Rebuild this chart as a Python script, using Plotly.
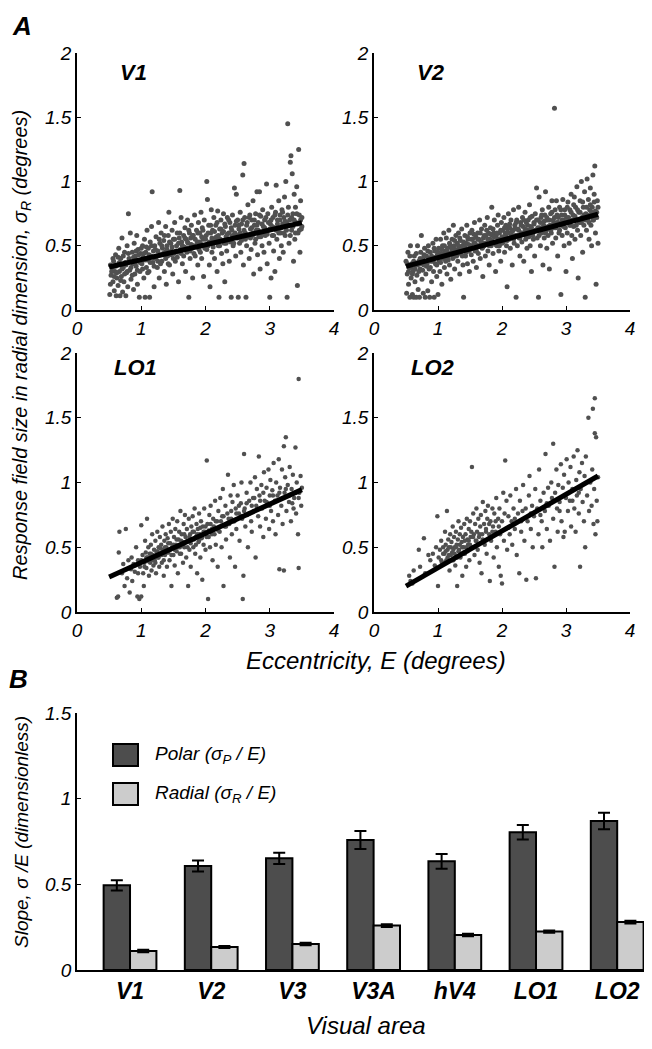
import plotly.graph_objects as go

# ---------------- data ----------------
# Panel A: (eccentricity E, radial size sigma_R)
v1_pts = [
(0.51,0.12),(0.52,0.2),(0.53,0.27),(0.55,0.33),(0.56,0.22),(0.57,0.38),(0.58,0.15),(0.59,0.3),(0.6,0.43),
(0.61,0.11),(0.62,0.25),(0.63,0.35),(0.64,0.19),(0.65,0.48),(0.66,0.3),(0.67,0.11),(0.68,0.4),(0.69,0.26),(0.7,0.56),
(0.71,0.14),(0.72,0.33),(0.73,0.22),(0.74,0.45),(0.75,0.37),(0.76,0.11),(0.77,0.29),(0.78,0.5),(0.79,0.18),(0.8,0.75),
(0.81,0.4),(0.82,0.31),(0.83,0.6),(0.84,0.24),(0.86,0.45),(0.87,0.36),(0.88,0.16),(0.89,0.52),(0.9,0.28),
(0.91,0.42),(0.92,0.34),(0.93,0.58),(0.94,0.2),(0.95,0.47),(0.96,0.38),(0.97,0.1),(0.98,0.3),(0.99,0.44),
(1.01,0.36),(1.02,0.5),(1.03,0.41),(1.04,0.25),(1.05,0.55),(1.06,0.1),(1.07,0.45),(1.08,0.33),(1.09,0.62),(1.1,0.39),
(1.11,0.48),(1.12,0.3),(1.13,0.1),(1.14,0.53),(1.15,0.42),(1.16,0.65),(1.17,0.92),(1.18,0.37),(1.19,0.46),(1.2,0.18),
(1.21,0.5),(1.22,0.4),(1.23,0.57),(1.25,0.33),(1.26,0.46),(1.27,0.68),(1.28,0.25),(1.29,0.52),(1.3,0.43),
(1.31,0.6),(1.32,0.38),(1.33,0.48),(1.35,0.54),(1.36,0.3),(1.37,0.45),(1.38,0.65),(1.39,0.2),(1.4,0.5),
(1.41,0.42),(1.42,0.58),(1.43,0.76),(1.44,0.35),(1.46,0.52),(1.47,0.46),(1.48,0.62),(1.49,0.28),(1.5,0.55),
(1.51,0.44),(1.52,0.68),(1.53,0.38),(1.55,0.5),(1.56,0.6),(1.57,0.45),(1.58,0.22),(1.59,0.56),(1.6,0.93),
(1.61,0.47),(1.62,0.72),(1.63,0.53),(1.64,0.36),(1.66,0.58),(1.67,0.49),(1.68,0.64),(1.69,0.3),(1.7,0.55),
(1.71,0.45),(1.72,0.7),(1.73,0.52),(1.74,0.1),(1.75,0.6),(1.76,0.4),(1.77,0.56),(1.78,0.66),(1.79,0.48),(1.8,0.25),
(1.81,0.58),(1.82,0.5),(1.83,0.74),(1.84,0.42),(1.86,0.62),(1.87,0.53),(1.88,0.35),(1.89,0.68),(1.9,0.47),
(1.91,0.6),(1.92,0.52),(1.93,0.76),(1.94,0.4),(1.95,0.64),(1.96,0.55),(1.97,0.26),(1.98,0.7),(1.99,0.48),
(2.01,0.58),(2.02,1.0),(2.03,0.86),(2.04,0.5),(2.05,0.66),(2.06,0.35),(2.07,0.18),(2.08,0.6),(2.09,0.78),(2.1,0.45),
(2.11,0.62),(2.12,0.54),(2.13,0.72),(2.14,0.4),(2.16,0.66),(2.17,0.57),(2.18,0.3),(2.19,0.77),(2.2,0.5),
(2.21,0.1),(2.22,0.63),(2.23,0.55),(2.24,0.7),(2.25,0.44),(2.26,0.6),(2.27,0.36),(2.28,0.75),(2.29,0.52),(2.3,0.22),
(2.31,0.65),(2.32,0.57),(2.33,0.46),(2.34,0.72),(2.36,0.6),(2.37,0.38),(2.38,0.68),(2.39,0.53),(2.4,0.1),
(2.41,0.62),(2.42,0.74),(2.43,0.5),(2.45,0.95),(2.46,0.66),(2.47,0.42),(2.48,0.9),(2.49,0.58),(2.5,0.7),
(2.51,0.1),(2.52,0.63),(2.53,0.52),(2.54,0.76),(2.55,0.45),(2.56,0.67),(2.57,0.58),(2.58,1.05),(2.59,0.35),(2.6,1.14),
(2.61,0.72),(2.62,0.6),(2.63,0.1),(2.64,0.5),(2.65,0.68),(2.66,0.82),(2.67,0.57),(2.68,0.4),(2.69,0.74),(2.7,0.63),
(2.71,0.47),(2.72,0.7),(2.73,0.58),(2.74,0.85),(2.75,0.28),(2.76,0.66),(2.77,0.52),(2.78,0.75),(2.79,0.62),(2.8,0.92),
(2.81,0.43),(2.82,0.68),(2.83,0.57),(2.84,0.92),(2.85,0.32),(2.86,0.73),(2.87,0.6),(2.88,0.5),(2.89,0.78),(2.9,0.65),
(2.91,0.45),(2.92,0.7),(2.93,0.58),(2.95,0.98),(2.96,0.36),(2.97,0.75),(2.98,0.62),(2.99,0.52),(3.0,0.1),
(3.01,0.67),(3.02,0.25),(3.03,0.8),(3.04,0.58),(3.05,0.72),(3.06,0.46),(3.07,0.64),(3.08,0.3),(3.09,0.76),(3.1,0.97),
(3.11,0.55),(3.12,0.7),(3.13,0.62),(3.14,0.85),(3.15,0.4),(3.16,0.74),(3.17,0.6),(3.18,0.5),(3.19,0.78),(3.2,0.67),
(3.21,0.45),(3.22,0.72),(3.23,0.88),(3.24,0.58),(3.25,1.0),(3.26,0.68),(3.27,0.1),(3.28,1.45),(3.29,0.8),(3.3,0.52),
(3.31,0.7),(3.32,1.15),(3.33,1.2),(3.34,0.62),(3.35,1.06),(3.36,0.75),(3.37,0.38),(3.38,0.9),(3.39,0.55),(3.4,0.8),
(3.41,0.68),(3.42,0.96),(3.43,0.19),(3.44,0.6),(3.45,1.25),(3.46,0.74),(3.47,0.45),(3.48,0.85),(3.49,0.63),(3.5,0.72),
(0.52,0.35),(0.54,0.3),(0.56,0.4),(0.58,0.26),(0.6,0.34),(0.62,0.29),(0.64,0.41),(0.66,0.37),(0.68,0.23),(0.7,0.32),
(0.72,0.42),(0.74,0.28),(0.76,0.35),(0.78,0.3),(0.8,0.44),(0.82,0.38),(0.84,0.33),(0.86,0.27),(0.88,0.41),(0.9,0.36),
(0.92,0.46),(0.94,0.31),(0.96,0.43),(0.98,0.37),(1.0,0.48),(1.02,0.32),(1.04,0.44),(1.06,0.39),(1.08,0.49),(1.1,0.29),
(1.12,0.43),(1.14,0.37),(1.16,0.5),(1.18,0.41),(1.2,0.34),(1.22,0.47),(1.24,0.42),(1.26,0.38),(1.28,0.55),(1.3,0.36),
(1.32,0.5),(1.34,0.44),(1.36,0.58),(1.38,0.4),(1.4,0.47),(1.42,0.36),(1.44,0.53),(1.46,0.43),(1.48,0.49),(1.5,0.4),
(1.52,0.55),(1.54,0.46),(1.56,0.41),(1.58,0.52),(1.6,0.6),(1.62,0.44),(1.64,0.5),(1.66,0.42),(1.68,0.56),(1.7,0.48),
(1.72,0.53),(1.74,0.62),(1.76,0.46),(1.78,0.51),(1.8,0.58),(1.82,0.44),(1.84,0.55),(1.86,0.49),(1.88,0.6),(1.9,0.53),
(1.92,0.45),(1.94,0.57),(1.96,0.62),(1.98,0.5),(2.0,0.55),(2.02,0.47),(2.04,0.6),(2.06,0.53),(2.08,0.66),(2.1,0.56),
(2.12,0.49),(2.14,0.61),(2.16,0.55),(2.18,0.68),(2.2,0.58),(2.22,0.5),(2.24,0.63),(2.26,0.54),(2.28,0.61),(2.3,0.67),
(2.32,0.52),(2.34,0.59),(2.36,0.7),(2.38,0.55),(2.4,0.64),(2.42,0.58),(2.44,0.52),(2.46,0.6),(2.48,0.69),(2.5,0.56),
(2.52,0.66),(2.54,0.6),(2.56,0.54),(2.58,0.7),(2.6,0.62),(2.62,0.55),(2.64,0.66),(2.66,0.58),(2.68,0.72),(2.7,0.56),
(2.72,0.64),(2.74,0.6),(2.76,0.7),(2.78,0.55),(2.8,0.66),(2.82,0.62),(2.84,0.74),(2.86,0.57),(2.88,0.67),(2.9,0.6),
(2.92,0.64),(2.94,0.72),(2.96,0.59),(2.98,0.68),(3.0,0.63),(3.02,0.7),(3.04,0.65),(3.06,0.58),(3.08,0.74),(3.1,0.62),
(3.12,0.67),(3.14,0.6),(3.16,0.7),(3.18,0.64),(3.2,0.76),(3.22,0.6),(3.24,0.69),(3.26,0.62),(3.28,0.74),(3.3,0.66),
(3.32,0.58),(3.34,0.72),(3.36,0.65),(3.38,0.7),(3.4,0.6),(3.42,0.75),(3.44,0.67),(3.46,0.62),(3.48,0.7),(3.5,0.65),
]
v2_pts = [
(0.5,0.38),(0.51,0.13),(0.52,0.28),(0.53,0.45),(0.54,0.2),(0.55,0.33),(0.56,0.1),(0.57,0.5),(0.58,0.25),(0.59,0.36),(0.6,0.12),
(0.61,0.3),(0.62,0.1),(0.63,0.42),(0.64,0.22),(0.65,0.35),(0.66,0.1),(0.67,0.27),(0.68,0.5),(0.69,0.16),(0.7,0.38),
(0.71,0.1),(0.72,0.32),(0.73,0.45),(0.74,0.58),(0.75,0.24),(0.76,0.4),(0.77,0.13),(0.78,0.35),(0.79,0.48),(0.8,0.1),
(0.81,0.28),(0.82,0.42),(0.83,0.36),(0.84,0.15),(0.85,0.5),(0.86,0.32),(0.87,0.1),(0.88,0.45),(0.89,0.38),(0.9,0.22),
(0.91,0.4),(0.92,0.52),(0.93,0.3),(0.94,0.1),(0.95,0.46),(0.96,0.36),(0.97,0.55),(0.98,0.26),(0.99,0.43),(1.0,0.12),
(1.01,0.48),(1.02,0.38),(1.03,0.3),(1.04,0.55),(1.05,0.44),(1.06,0.2),(1.07,0.5),(1.08,0.4),(1.09,0.6),(1.1,0.33),
(1.11,0.46),(1.12,0.38),(1.13,0.56),(1.14,0.28),(1.15,0.48),(1.16,0.42),(1.17,0.62),(1.18,0.35),(1.19,0.5),(1.2,0.24),
(1.21,0.45),(1.22,0.55),(1.23,0.4),(1.24,0.66),(1.25,0.5),(1.26,0.32),(1.27,0.47),(1.28,0.58),(1.29,0.42),(1.3,0.52),
(1.31,0.38),(1.32,0.6),(1.33,0.48),(1.34,0.28),(1.35,0.54),(1.36,0.44),(1.37,0.63),(1.38,0.5),(1.39,0.35),(1.4,0.1),
(1.41,0.47),(1.42,0.58),(1.43,0.42),(1.44,0.52),(1.45,0.66),(1.46,0.36),(1.47,0.55),(1.48,0.46),(1.49,0.3),(1.5,0.6),
(1.51,0.5),(1.52,0.43),(1.53,0.62),(1.54,0.55),(1.55,0.38),(1.56,0.52),(1.57,0.68),(1.58,0.46),(1.59,0.57),(1.6,0.33),
(1.61,0.5),(1.62,0.6),(1.63,0.44),(1.64,0.55),(1.65,0.7),(1.66,0.4),(1.67,0.53),(1.68,0.63),(1.69,0.48),(1.7,0.26),
(1.71,0.56),(1.72,0.5),(1.73,0.66),(1.74,0.42),(1.75,0.58),(1.76,0.52),(1.77,0.72),(1.78,0.46),(1.79,0.6),(1.8,0.35),
(1.81,0.55),(1.82,0.64),(1.83,0.5),(1.84,0.8),(1.85,0.58),(1.86,0.44),(1.87,0.6),(1.88,0.7),(1.89,0.53),(1.9,0.3),
(1.91,0.58),(1.92,0.5),(1.93,0.66),(1.94,0.74),(1.95,0.46),(1.96,0.6),(1.97,0.55),(1.98,0.38),(1.99,0.68),(2.0,0.52),
(2.01,0.62),(2.02,0.56),(2.03,0.72),(2.04,0.45),(2.05,0.6),(2.06,0.66),(2.07,0.5),(2.08,0.18),(2.09,0.63),(2.1,0.75),
(2.11,0.55),(2.12,0.64),(2.13,0.48),(2.14,0.7),(2.15,0.58),(2.16,0.35),(2.17,0.62),(2.18,0.78),(2.19,0.52),(2.2,0.66),
(2.21,0.58),(2.22,0.1),(2.23,0.7),(2.24,0.5),(2.25,0.63),(2.26,0.8),(2.27,0.56),(2.28,0.42),(2.29,0.68),(2.3,0.6),
(2.31,0.53),(2.32,0.72),(2.33,0.65),(2.34,0.38),(2.35,0.6),(2.36,0.76),(2.37,0.55),(2.38,0.68),(2.39,0.48),(2.4,0.62),
(2.41,0.7),(2.42,0.57),(2.43,0.82),(2.44,0.5),(2.45,0.65),(2.46,0.3),(2.47,0.73),(2.48,0.6),(2.49,0.55),(2.5,0.68),
(2.51,0.42),(2.52,0.75),(2.53,0.62),(2.54,0.95),(2.55,0.56),(2.56,0.7),(2.57,0.1),(2.58,0.88),(2.59,0.64),(2.6,0.5),
(2.61,0.72),(2.62,0.6),(2.63,0.78),(2.64,0.35),(2.65,0.66),(2.66,0.56),(2.67,0.74),(2.68,0.92),(2.69,0.62),(2.7,0.48),
(2.71,0.7),(2.72,0.58),(2.73,0.8),(2.74,0.32),(2.75,0.66),(2.76,0.75),(2.77,0.6),(2.78,0.85),(2.79,0.52),(2.8,0.7),
(2.81,0.64),(2.82,1.57),(2.83,0.78),(2.84,0.56),(2.85,0.85),(2.86,0.68),(2.87,0.42),(2.88,0.72),(2.89,0.6),(2.9,0.8),
(2.91,0.66),(2.92,0.12),(2.93,0.74),(2.94,0.58),(2.95,0.86),(2.96,0.7),(2.97,0.5),(2.98,0.78),(2.99,0.64),(3.0,0.3),
(3.01,0.72),(3.02,0.6),(3.03,0.84),(3.04,0.68),(3.05,0.52),(3.06,0.78),(3.07,0.66),(3.08,0.9),(3.09,0.58),(3.1,0.4),
(3.11,0.74),(3.12,0.65),(3.13,0.88),(3.14,0.55),(3.15,0.8),(3.16,0.7),(3.17,0.96),(3.18,0.62),(3.19,0.25),(3.2,0.76),
(3.21,0.68),(3.22,0.85),(3.23,0.58),(3.24,1.0),(3.25,0.72),(3.26,0.45),(3.27,0.8),(3.28,0.66),(3.29,0.92),(3.3,0.1),
(3.31,0.75),(3.32,0.62),(3.33,1.02),(3.34,0.7),(3.35,0.86),(3.36,0.55),(3.37,0.78),(3.38,0.95),(3.39,0.66),(3.4,0.5),
(3.41,0.8),(3.42,1.05),(3.43,0.7),(3.44,0.9),(3.45,1.12),(3.46,0.6),(3.47,0.2),(3.48,0.76),(3.49,0.85),(3.5,0.52),
(0.52,0.36),(0.54,0.3),(0.56,0.42),(0.58,0.33),(0.6,0.28),(0.62,0.38),(0.64,0.32),(0.66,0.44),(0.68,0.35),(0.7,0.3),
(0.72,0.4),(0.74,0.36),(0.76,0.31),(0.78,0.43),(0.8,0.37),(0.82,0.34),(0.84,0.46),(0.86,0.4),(0.88,0.33),(0.9,0.42),
(0.92,0.38),(0.94,0.48),(0.96,0.41),(0.98,0.35),(1.0,0.45),(1.02,0.42),(1.04,0.37),(1.06,0.47),(1.08,0.43),(1.1,0.5),
(1.12,0.41),(1.14,0.46),(1.16,0.39),(1.18,0.52),(1.2,0.44),(1.22,0.48),(1.24,0.41),(1.26,0.54),(1.28,0.46),(1.3,0.43),
(1.32,0.5),(1.34,0.56),(1.36,0.47),(1.38,0.42),(1.4,0.53),(1.42,0.49),(1.44,0.45),(1.46,0.57),(1.48,0.51),(1.5,0.47),
(1.52,0.55),(1.54,0.48),(1.56,0.59),(1.58,0.52),(1.6,0.46),(1.62,0.55),(1.64,0.5),(1.66,0.6),(1.68,0.53),(1.7,0.49),
(1.72,0.58),(1.74,0.52),(1.76,0.62),(1.78,0.55),(1.8,0.5),(1.82,0.59),(1.84,0.54),(1.86,0.63),(1.88,0.57),(1.9,0.51),
(1.92,0.6),(1.94,0.55),(1.96,0.5),(1.98,0.62),(2.0,0.57),(2.02,0.53),(2.04,0.64),(2.06,0.58),(2.08,0.54),(2.1,0.6),
(2.12,0.67),(2.14,0.56),(2.16,0.61),(2.18,0.55),(2.2,0.63),(2.22,0.68),(2.24,0.58),(2.26,0.62),(2.28,0.56),(2.3,0.66),
(2.32,0.6),(2.34,0.7),(2.36,0.63),(2.38,0.57),(2.4,0.66),(2.42,0.61),(2.44,0.72),(2.46,0.64),(2.48,0.58),(2.5,0.67),
(2.52,0.62),(2.54,0.7),(2.56,0.64),(2.58,0.58),(2.6,0.68),(2.62,0.74),(2.64,0.63),(2.66,0.69),(2.68,0.6),(2.7,0.72),
(2.72,0.65),(2.74,0.7),(2.76,0.62),(2.78,0.76),(2.8,0.67),(2.82,0.72),(2.84,0.64),(2.86,0.74),(2.88,0.68),(2.9,0.62),
(2.92,0.78),(2.94,0.7),(2.96,0.65),(2.98,0.74),(3.0,0.68),(3.02,0.8),(3.04,0.72),(3.06,0.66),(3.08,0.76),(3.1,0.7),
(3.12,0.82),(3.14,0.73),(3.16,0.66),(3.18,0.78),(3.2,0.7),(3.22,0.76),(3.24,0.68),(3.26,0.84),(3.28,0.74),(3.3,0.7),
(3.32,0.8),(3.34,0.74),(3.36,0.68),(3.38,0.82),(3.4,0.76),(3.42,0.7),(3.44,0.84),(3.46,0.77),(3.48,0.72),(3.5,0.8),
]
lo1_pts = [
(0.62,0.11),(0.64,0.12),(0.65,0.46),(0.66,0.62),(0.7,0.3),(0.72,0.37),(0.74,0.2),(0.76,0.64),(0.78,0.26),(0.8,0.4),
(0.82,0.15),(0.84,0.33),(0.85,0.42),(0.86,0.24),(0.88,0.37),(0.9,0.31),(0.92,0.5),(0.94,0.12),(0.95,0.4),(0.97,0.1),(0.98,0.35),(1.0,0.67),
(1.0,0.12),(1.02,0.44),(1.03,0.3),(1.04,0.2),(1.05,0.38),(1.06,0.55),(1.07,0.46),(1.08,0.34),(1.09,0.72),(1.1,0.42),
(1.11,0.5),(1.12,0.28),(1.13,0.45),(1.14,0.38),(1.15,0.52),(1.16,0.32),(1.17,0.6),(1.18,0.44),(1.19,0.36),(1.2,0.48),
(1.21,0.4),(1.22,0.55),(1.23,0.3),(1.24,0.46),(1.25,0.62),(1.26,0.42),(1.27,0.5),(1.28,0.35),(1.29,0.58),(1.3,0.45),
(1.31,0.52),(1.32,0.38),(1.33,0.66),(1.34,0.48),(1.35,0.28),(1.36,0.55),(1.37,0.44),(1.38,0.6),(1.39,0.5),(1.4,0.35),
(1.41,0.57),(1.42,0.46),(1.43,0.68),(1.44,0.4),(1.45,0.53),(1.46,0.62),(1.47,0.2),(1.48,0.5),(1.49,0.72),(1.5,0.44),
(1.51,0.58),(1.52,0.36),(1.53,0.64),(1.54,0.52),(1.55,0.47),(1.56,0.7),(1.57,0.3),(1.58,0.56),(1.59,0.62),(1.6,0.5),
(1.61,0.78),(1.62,0.45),(1.63,0.6),(1.64,0.54),(1.65,0.38),(1.66,0.68),(1.67,0.5),(1.68,0.75),(1.69,0.58),(1.7,0.42),
(1.71,0.64),(1.72,0.55),(1.73,0.2),(1.74,0.72),(1.75,0.48),(1.76,0.6),(1.77,0.35),(1.78,0.66),(1.79,0.56),(1.8,0.74),
(1.81,0.5),(1.82,0.62),(1.83,0.8),(1.84,0.45),(1.85,0.58),(1.86,0.68),(1.87,0.3),(1.88,0.64),(1.89,0.54),(1.9,0.76),
(1.91,0.6),(1.92,0.42),(1.93,0.7),(1.94,0.57),(1.95,0.25),(1.96,0.66),(1.97,0.52),(1.98,0.8),(1.99,0.62),(2.0,0.48),
(2.02,1.17),(2.03,0.68),(2.04,0.1),(2.05,0.58),(2.06,0.75),(2.07,0.5),(2.08,0.82),(2.1,0.64),(2.11,0.4),(2.12,0.72),
(2.14,0.6),(2.15,0.86),(2.16,0.52),(2.18,0.7),(2.19,0.35),(2.2,0.78),
(2.22,0.62),(2.23,0.88),(2.25,0.5),(2.26,0.74),(2.27,0.95),(2.28,0.2),(2.3,0.66),(2.31,0.82),(2.32,0.56),(2.34,0.76),
(2.35,1.06),(2.37,0.68),(2.38,0.42),(2.39,0.9),(2.4,0.72),
(2.41,0.6),(2.42,0.85),(2.44,0.98),(2.45,0.7),(2.46,0.35),(2.47,0.8),(2.48,0.64),(2.5,0.9),(2.52,0.76),(2.53,0.55),
(2.55,0.84),(2.56,1.0),(2.57,0.72),(2.58,0.1),(2.59,0.28),(2.6,1.22),
(2.61,0.8),(2.62,0.66),(2.64,0.92),(2.65,0.75),(2.66,0.5),(2.68,0.86),(2.7,1.0),(2.71,0.7),(2.72,0.62),(2.74,0.88),
(2.75,0.78),(2.77,1.04),(2.78,0.42),(2.79,0.82),(2.8,0.95),
(2.82,0.74),(2.83,1.2),(2.84,0.9),(2.85,0.66),(2.87,0.98),(2.88,0.8),(2.9,0.58),(2.91,1.08),(2.92,0.86),(2.94,0.72),
(2.95,0.96),(2.97,0.84),(2.98,1.1),(2.99,0.64),(3.0,0.9),
(3.01,1.02),(3.02,0.78),(3.04,0.94),(3.05,0.7),(3.06,1.15),(3.08,0.86),(3.09,0.6),(3.1,1.0),(3.12,0.9),(3.13,0.75),
(3.14,1.18),(3.15,0.33),(3.16,0.96),(3.18,0.82),(3.19,1.1),(3.2,0.68),
(3.22,1.28),(3.22,0.32),(3.23,0.92),(3.24,1.04),(3.25,1.35),(3.26,0.78),(3.28,0.98),(3.3,0.85),(3.31,1.12),(3.33,0.7),
(3.34,0.95),(3.36,1.06),(3.37,0.8),(3.38,0.88),(3.4,1.27),(3.41,0.76),(3.42,1.0),(3.44,0.6),(3.45,1.8),(3.45,0.34),
(3.46,0.92),(3.48,1.05),(3.49,0.82),(3.5,0.96),
(0.9,0.36),(0.95,0.3),(1.0,0.4),(1.05,0.35),(1.08,0.42),(1.12,0.39),(1.15,0.45),(1.18,0.4),(1.2,0.43),(1.22,0.38),
(1.25,0.47),(1.27,0.42),(1.3,0.49),(1.32,0.44),(1.35,0.4),(1.37,0.5),(1.4,0.46),(1.42,0.53),(1.45,0.48),(1.47,0.44),
(1.5,0.52),(1.52,0.48),(1.55,0.56),(1.57,0.5),(1.6,0.45),(1.62,0.55),(1.65,0.52),(1.67,0.6),(1.7,0.54),(1.72,0.5),
(1.75,0.58),(1.77,0.53),(1.8,0.62),(1.82,0.56),(1.85,0.52),(1.87,0.6),(1.9,0.55),(1.92,0.65),(1.95,0.58),(1.97,0.62),
(2.0,0.66),(2.02,0.58),(2.05,0.63),(2.08,0.68),(2.1,0.6),(2.13,0.66),(2.16,0.7),(2.2,0.63),(2.24,0.7),(2.28,0.74),
(2.32,0.66),(2.36,0.72),(2.4,0.78),(2.44,0.7),(2.48,0.76),(2.52,0.82),(2.56,0.74),(2.6,0.78),(2.64,0.84),(2.68,0.76),
(2.72,0.82),(2.76,0.88),(2.8,0.8),(2.85,0.86),(2.9,0.92),(2.95,0.85),(3.0,0.82),(3.05,0.9),(3.1,0.86),(3.15,0.92),
(3.2,0.88),(3.25,0.95),(3.3,0.9),(3.35,0.84),(3.4,0.92),(3.45,0.88),
]
lo2_pts = [
(0.55,0.28),(0.57,0.24),(0.6,0.22),(0.62,0.32),(0.7,0.48),(0.72,0.35),(0.78,0.57),(0.8,0.3),(0.85,0.44),(0.88,0.4),
(0.92,0.45),(0.95,0.36),(0.97,0.5),(0.99,0.74),(1.0,0.2),(1.01,0.42),(1.03,0.48),(1.05,0.55),(1.06,0.38),(1.08,0.5),
(1.1,0.45),(1.11,0.62),(1.12,0.52),(1.13,0.4),(1.14,0.78),(1.15,0.48),(1.16,0.56),(1.17,0.44),(1.18,0.32),(1.19,0.6),
(1.2,0.5),(1.21,0.54),(1.22,0.46),(1.23,0.66),(1.24,0.4),(1.25,0.58),(1.26,0.5),(1.27,0.36),(1.28,0.62),(1.29,0.52),
(1.3,0.2),(1.31,0.56),(1.32,0.7),(1.33,0.48),(1.34,0.6),(1.35,0.42),(1.36,0.65),(1.37,0.54),(1.38,0.28),(1.39,0.58),
(1.4,0.5),(1.41,0.68),(1.42,0.45),(1.43,0.6),(1.44,0.35),(1.45,0.72),(1.46,0.56),(1.47,0.52),(1.48,0.64),(1.49,0.4),
(1.5,0.7),(1.51,0.58),(1.52,0.62),(1.53,1.12),(1.54,0.5),(1.55,0.76),(1.56,0.6),(1.57,0.44),(1.58,0.68),(1.59,0.55),
(1.6,0.8),(1.61,0.62),(1.62,0.48),(1.63,0.72),(1.64,0.58),(1.65,0.38),(1.66,0.66),(1.67,0.75),(1.68,0.3),(1.69,0.6),
(1.7,0.85),(1.72,0.68),(1.73,0.52),(1.74,0.78),(1.75,0.62),(1.76,0.45),(1.77,0.72),(1.78,0.82),(1.8,0.6),(1.81,0.24),
(1.82,0.7),(1.83,0.55),(1.85,0.8),(1.86,0.66),(1.87,0.42),(1.88,0.76),(1.9,0.62),(1.91,0.88),(1.92,0.5),(1.94,0.72),
(1.95,0.35),(1.96,0.8),(1.97,0.6),(1.98,0.28),(2.0,0.7),(2.0,0.22),(2.02,0.92),(2.03,0.55),(2.04,0.76),(2.05,1.17),
(2.06,0.64),(2.07,0.86),(2.08,0.48),(2.1,0.74),(2.12,0.6),(2.13,0.9),(2.15,0.7),(2.16,0.52),(2.18,0.8),(2.2,0.64),
(2.22,0.95),(2.23,0.44),(2.25,0.76),(2.27,0.3),(2.28,0.86),(2.3,0.62),(2.32,0.78),(2.33,0.98),(2.35,0.55),(2.37,0.8),
(2.38,0.25),(2.4,0.7),(2.42,0.9),(2.43,1.05),(2.45,0.64),(2.47,0.82),(2.48,0.5),(2.5,0.74),(2.52,0.95),(2.53,0.26),
(2.55,0.8),(2.57,0.6),(2.58,1.1),(2.6,0.86),(2.62,0.7),(2.63,0.5),(2.65,0.92),(2.67,0.78),(2.68,1.22),(2.7,0.64),
(2.72,0.96),(2.73,0.82),(2.75,0.55),(2.77,1.0),(2.78,0.88),(2.8,1.3),(2.8,0.72),(2.82,0.35),(2.83,0.92),(2.85,1.1),
(2.86,0.8),(2.87,0.62),(2.88,0.98),(2.9,0.85),(2.92,1.14),(2.93,0.7),(2.95,0.96),(2.96,0.58),(2.97,1.06),(2.98,0.62),
(3.0,0.88),(3.01,1.18),(3.03,0.78),(3.04,1.0),(3.06,0.86),(3.07,1.12),(3.08,0.66),(3.1,0.95),(3.12,1.2),(3.13,0.8),
(3.15,0.62),(3.16,1.02),(3.17,0.9),(3.18,1.25),(3.2,0.76),(3.21,1.08),(3.22,0.35),(3.23,0.95),(3.25,1.15),(3.26,0.85),
(3.28,0.7),(3.29,1.05),(3.3,0.5),(3.31,1.2),(3.33,0.9),(3.35,1.5),(3.36,0.78),(3.38,1.0),(3.4,0.82),(3.41,1.1),
(3.42,1.57),(3.43,0.68),(3.44,0.95),(3.45,1.65),(3.45,1.38),(3.46,0.6),(3.47,1.35),(3.48,0.86),(3.49,0.7),(3.5,1.04),
(1.05,0.4),(1.08,0.45),(1.1,0.38),(1.12,0.47),(1.15,0.42),(1.17,0.5),(1.2,0.44),(1.22,0.4),(1.24,0.48),(1.26,0.45),
(1.28,0.5),(1.3,0.42),(1.32,0.47),(1.34,0.52),(1.36,0.45),(1.38,0.5),(1.4,0.46),(1.42,0.55),(1.44,0.5),(1.46,0.47),
(1.48,0.55),(1.5,0.52),(1.55,0.58),(1.6,0.55),(1.65,0.6),(1.7,0.56),(1.75,0.64),(1.8,0.68),(1.85,0.62),(1.9,0.7),
(1.95,0.66),(2.1,0.65),(2.2,0.72),(2.3,0.7),(2.45,0.76),(2.6,0.75),(2.7,0.84),(2.9,0.78),(3.1,0.86),(3.2,0.92),
]
# Fitted regression lines (endpoints)
fit_x = [0.5, 3.5]
v1_fit = [0.335, 0.68]
v2_fit = [0.34, 0.745]
lo1_fit = [0.27, 0.945]
lo2_fit = [0.2, 1.05]
scatter_ticks_x = [0, 1, 2, 3, 4]
scatter_ticks_y = [0, 0.5, 1, 1.5, 2]

# Panel B
areas = ["V1", "V2", "V3", "V3A", "hV4", "LO1", "LO2"]
polar_slope = [0.494, 0.607, 0.652, 0.759, 0.634, 0.804, 0.87]
polar_err = [0.030, 0.032, 0.033, 0.053, 0.043, 0.042, 0.048]
radial_slope = [0.111, 0.134, 0.152, 0.259, 0.204, 0.224, 0.28]
radial_err = [0.007, 0.006, 0.007, 0.008, 0.007, 0.007, 0.008]
bar_ticks_y = [0, 0.5, 1, 1.5]

# ---------------- figure ----------------
# the page body keeps an 8 px margin: figure of 636x1033 placed at (8, 8)
OFF = 8
W, H = 652 - 2 * OFF, 1049 - 2 * OFF
def PX(x):
    return (x - OFF) / W
def PY(y):
    return 1 - (y - OFF) / H

FONT = "Liberation Sans, Arial, sans-serif"
DOT = "#505050"
DARK = "#4d4d4d"
LIGHT = "#cccccc"

fig = go.Figure()

panels = [
    ("V1", v1_pts, v1_fit, "x", "y", 5),
    ("V2", v2_pts, v2_fit, "x2", "y2", 5),
    ("LO1", lo1_pts, lo1_fit, "x3", "y3", 4.5),
    ("LO2", lo2_pts, lo2_fit, "x4", "y4", 4.5),
]
for name, pts, fit, xa, ya, ms in panels:
    fig.add_trace(go.Scatter(
        x=[p[0] for p in pts], y=[p[1] for p in pts], mode="markers", name=name,
        marker=dict(size=ms, color=DOT, line=dict(width=0)),
        xaxis=xa, yaxis=ya, showlegend=False))
    fig.add_trace(go.Scatter(
        x=fit_x, y=fit, mode="lines", line=dict(color="black", width=5),
        xaxis=xa, yaxis=ya, showlegend=False))

fig.add_trace(go.Bar(
    x=areas, y=polar_slope, name="Polar", marker=dict(color=DARK, line=dict(color="black", width=2)),
    error_y=dict(type="data", array=polar_err, color="black", thickness=2, width=6),
    xaxis="x5", yaxis="y5", showlegend=False))
fig.add_trace(go.Bar(
    x=areas, y=radial_slope, name="Radial", marker=dict(color=LIGHT, line=dict(color="black", width=2)),
    error_y=dict(type="data", array=radial_err, color="black", thickness=2, width=6),
    xaxis="x5", yaxis="y5", showlegend=False))

tickfont = dict(family=FONT, size=19, style="italic", color="black")
base = dict(showline=True, linecolor="black", linewidth=1.5, ticks="inside", ticklen=4,
            tickcolor="black", tickwidth=1.2, showgrid=False, zeroline=False, tickfont=tickfont,
            automargin=False)

def xax(x0, x1, anchor):
    return dict(base, domain=[PX(x0), PX(x1)], range=[0, 4], tickvals=scatter_ticks_x, anchor=anchor)
def yax(y0, y1, anchor):
    return dict(base, domain=[PY(y1), PY(y0)], range=[0, 2], tickvals=scatter_ticks_y, anchor=anchor)

fig.update_layout(
    template="none",
    width=W, height=H, margin=dict(l=0, r=0, t=0, b=0, pad=0, autoexpand=False), autosize=False,
    font=dict(family=FONT, color="black"),
    paper_bgcolor="white", plot_bgcolor="white", showlegend=False,
    barmode="group", bargap=0.35, bargroupgap=0,
    xaxis=xax(77, 334, "y"), yaxis=yax(53, 310, "x"),
    xaxis2=xax(374, 630, "y2"), yaxis2=yax(53, 310, "x2"),
    xaxis3=xax(77, 334, "y3"), yaxis3=yax(353, 612, "x3"),
    xaxis4=xax(374, 630, "y4"), yaxis4=yax(353, 612, "x4"),
    xaxis5=dict(showline=True, linecolor="black", linewidth=1.5, ticks="", showgrid=False, zeroline=False,
                automargin=False, domain=[PX(77), 1.0], range=[-0.653, 6.33], anchor="y5",
                tickfont=dict(family=FONT, size=23, style="italic", weight="bold", color="black")),
    yaxis5=dict(base, domain=[PY(970), PY(713)], range=[0, 1.5], tickvals=bar_ticks_y, anchor="x5"),
)

ann = []
def text(x, y, s, size, bold=False, angle=0, xanchor="center", yanchor="middle"):
    ann.append(dict(x=PX(x), y=PY(y), xref="paper", yref="paper", text=s, showarrow=False,
                    textangle=angle, xanchor=xanchor, yanchor=yanchor,
                    font=dict(family=FONT, size=size, style="italic",
                              weight="bold" if bold else "normal", color="black")))

text(22, 26, "A", 26, bold=True)
text(18, 679, "B", 26, bold=True)
text(133, 72, "V1", 22, bold=True)
text(431, 72, "V2", 22, bold=True)
text(135, 367, "LO1", 22, bold=True)
text(433, 367, "LO2", 22, bold=True)
text(376, 660, "Eccentricity, E (degrees)", 24)
text(21, 345, "Response field size in radial dimension, σ<sub>R</sub> (degrees)", 20, angle=-90)
text(21, 832, "Slope, σ /E (dimensionless)", 19, angle=-90)
text(366, 1041, "Visual area", 24, yanchor="bottom")
text(153, 755, "Polar (σ<sub>P</sub> / E)", 19, xanchor="left")
text(153, 794, "Radial (σ<sub>R</sub> / E)", 19, xanchor="left")
fig.update_layout(annotations=ann)

shapes = []
for (y0, y1, col) in [(744, 766, DARK), (783, 805, LIGHT)]:
    shapes.append(dict(type="rect", xref="paper", yref="paper", x0=PX(113), x1=PX(138),
                       y0=PY(y1), y1=PY(y0), fillcolor=col, line=dict(color="black", width=2)))
fig.update_layout(shapes=shapes)

fig.write_html("out.html")
